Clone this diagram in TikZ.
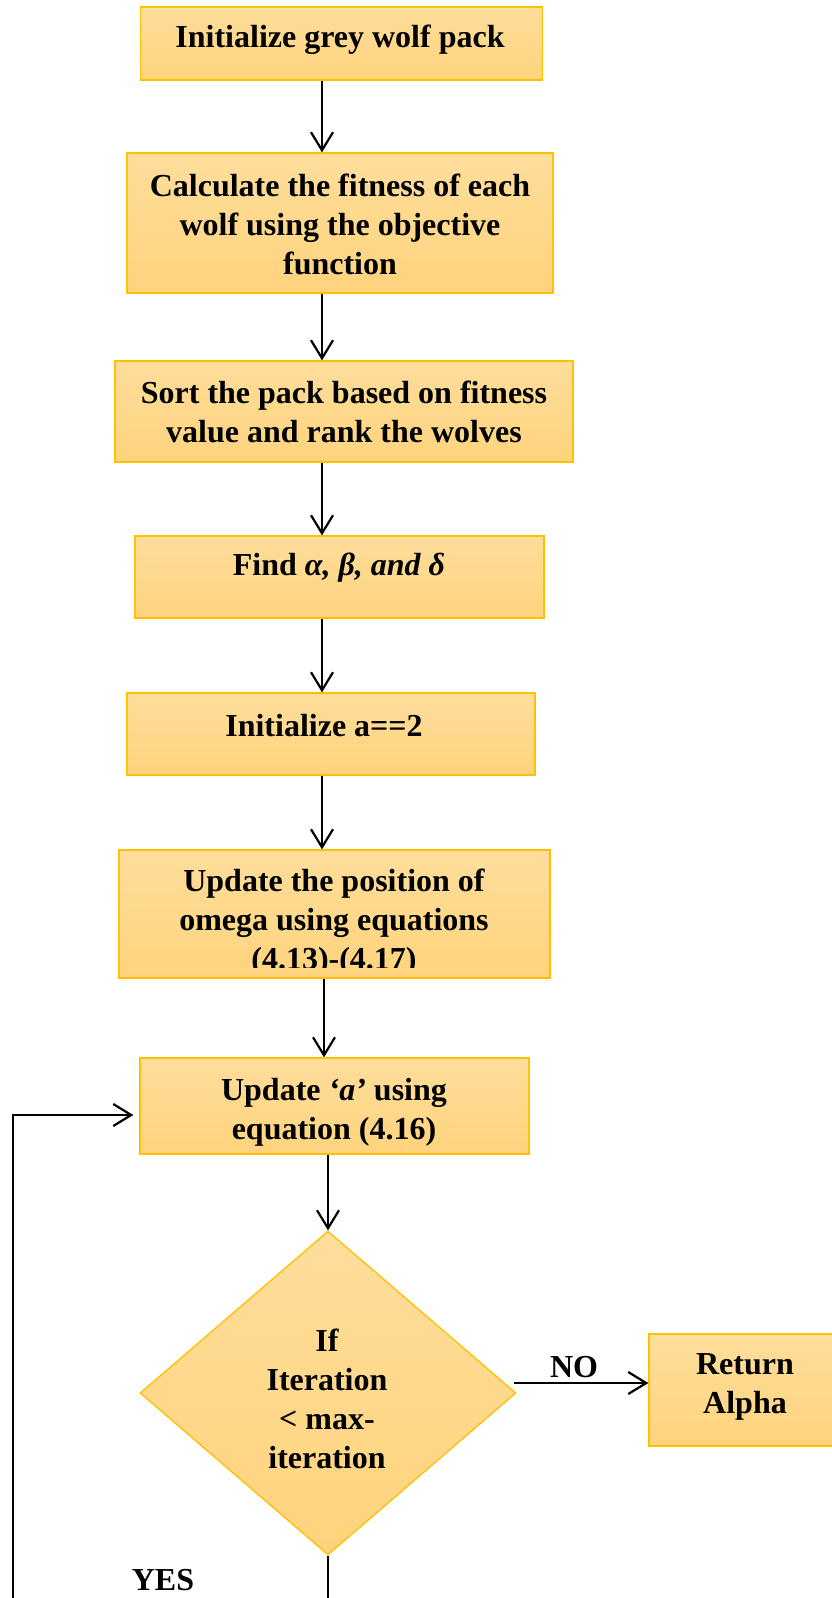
\documentclass[tikz,border=0pt]{standalone}
\usepackage{fontspec}
\setmainfont{Liberation Serif}
\usetikzlibrary{arrows.meta,shapes.geometric}
\definecolor{boxtop}{RGB}{254,222,156}
\definecolor{boxbot}{RGB}{254,211,124}
\definecolor{boxedge}{RGB}{255,192,0}
\begin{document}
\begin{tikzpicture}[x=1pt,y=-1pt,
  stepbox/.style={draw=boxedge, line width=1.3pt, top color=boxtop, bottom color=boxbot,
    rectangle, inner sep=0pt},
  label/.style={font=\bfseries\fontsize{32}{39}\selectfont, align=center, inner sep=0pt},
  flow/.style={draw, line width=2.2pt, -{Straight Barb[length=18pt,width=22pt]}},
  plain/.style={draw, line width=2.2pt}]
\useasboundingbox (0,0) rectangle (832,1598);
\clip (0,0) rectangle (832,1598);

% process boxes
\node[stepbox, minimum width=402pt, minimum height=73pt]  (b1) at (341.5,43.5) {};
\node[stepbox, minimum width=426pt, minimum height=140pt] (b2) at (340,223) {};
\node[stepbox, minimum width=458pt, minimum height=101pt] (b3) at (344,411.5) {};
\node[stepbox, minimum width=409pt, minimum height=82pt]  (b4) at (339.5,577) {};
\node[stepbox, minimum width=408pt, minimum height=82pt]  (b5) at (331,734) {};
\node[stepbox, minimum width=431pt, minimum height=128pt] (b6) at (334.5,914) {};
\node[stepbox, minimum width=389pt, minimum height=96pt]  (b7) at (334.5,1106) {};
\node[stepbox, diamond, minimum width=376pt, minimum height=324pt] (d) at (328,1393) {};
\node[stepbox, minimum width=211pt, minimum height=112pt] (ret) at (754.5,1390) {};

% texts
\node[label] (t1) at (340,40) {Initialize grey wolf pack};
\node[label] (t2) at (340,224) {Calculate the fitness of each\\wolf using the objective\\function};
\node[label] (t3) at (344,412) {Sort the pack based on fitness\\value and rank the wolves};
\node[label] (t4) at (339,568) {Find \textit{α, β, and δ}};
\node[label] (t5) at (324,726) {Initialize a==2};
\begin{scope}
  % the last line runs past the inner margin of the box and is cut off
  \clip (100,840) rectangle (570,967);
  \node[label] (t6) at (334,923) {Update the position of\\omega using equations\\(4.13)-(4.17)};
\end{scope}
\node[label] (t7) at (334,1112) {Update \textit{‘a’} using\\equation (4.16)};
\node[label] (td) at (327,1399) {If\\Iteration\\< max-\\iteration};
\node[label] (tr) at (745,1387) {Return\\Alpha};
\node[label] (tno) at (574,1367) {NO};
\node[label] (tyes) at (163,1580) {YES};

% connector guides
\coordinate (c1) at (322,0);
\coordinate (c2) at (324,0);
\coordinate (c3) at (328,0);
\coordinate (noy) at (0,1383);
\coordinate (dbot) at (328,1598);
\coordinate (lbot) at (13,1598);
\coordinate (ltop) at (13,1115);

% connectors
\draw[flow] (c1 |- b1.south) -- (c1 |- b2.north);
\draw[flow] (c1 |- b2.south) -- (c1 |- b3.north);
\draw[flow] (c1 |- b3.south) -- (c1 |- b4.north);
\draw[flow] (c1 |- b4.south) -- (c1 |- b5.north);
\draw[flow] (c1 |- b5.south) -- (c1 |- b6.north);
\draw[flow] (c2 |- b6.south) -- (c2 |- b7.north);
\draw[flow] (c3 |- b7.south) -- (d.north);
\draw[flow] ([xshift=-3pt]d.east |- noy) -- (ret.west |- noy);
\draw[plain] (d.south) -- (dbot);
\draw[flow, shorten >=6pt] (lbot) -- (ltop) -- (b7.west |- ltop);
\end{tikzpicture}
\end{document}
